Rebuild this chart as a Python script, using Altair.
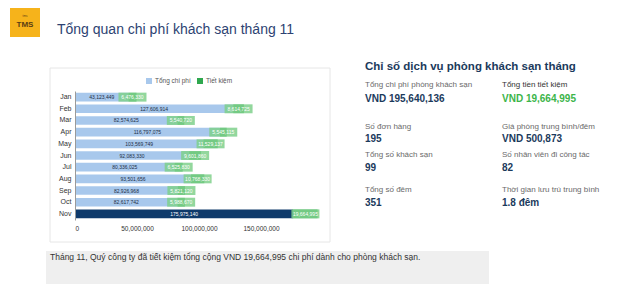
import altair as alt
import pandas as pd

months = ["Jan", "Feb", "Mar", "Apr", "May", "Jun", "Jul", "Aug", "Sep", "Oct", "Nov"]
total_cost = [43123449, 127606914, 82574625, 116797075, 103569749, 92083330,
              80336025, 93501656, 82926968, 82617742, 175975140]
savings = [6476330, 8614725, 5540720, 5545115, 11529137, 9601860,
           6525830, 10768330, 5821120, 5988670, 19664995]
is_current = [False] * 10 + [True]

x_ticks = [0, 50000000, 100000000, 150000000]
legend_labels = ["Tổng chi phí", "Tiết kiệm"]
legend_colors = ["#a8c8ec", "#2fa84f"]

title_text = "Tổng quan chi phí khách sạn tháng 11"
panel_title = "Chỉ số dịch vụ phòng khách sạn tháng"
kpi_labels = ["Tổng chi phí phòng khách sạn", "Tổng tiền tiết kiệm",
              "Số đơn hàng", "Giá phòng trung bình/đêm",
              "Tổng số khách sạn", "Số nhân viên đi công tác",
              "Tổng số đêm", "Thời gian lưu trú trung bình"]
kpi_values = ["VND 195,640,136", "VND 19,664,995", "195", "VND 500,873",
              "99", "82", "351", "1.8 đêm"]
note_text = "Tháng 11, Quý công ty đã tiết kiệm tổng cộng VND 19,664,995 chi phí dành cho phòng khách sạn."

FONT = "Liberation Sans"
OX, OY = 75, 91          # plot origin in page pixels
W, H = 248, 129

df = pd.DataFrame({"month": months, "total": total_cost, "saving": savings, "cur": is_current})

xs = alt.Scale(domain=[0, 200000000], nice=False)
ys = alt.Scale(domain=months, paddingInner=0.25, paddingOuter=0.15)

X_AXIS = alt.Axis(title=None, values=x_ticks, format=",d", domain=False, ticks=False,
                  grid=False, labelFontSize=6.5, labelColor="#333", labelFont=FONT,
                  labelPadding=5, zindex=2)
Y_AXIS = alt.Axis(title=None, ticks=False, domainColor="#9a9a9a", domainWidth=1,
                  labelFontSize=7, labelColor="#333", labelFont=FONT, labelPadding=4,
                  zindex=2)


def xq(field):
    return alt.X(field, scale=xs, axis=X_AXIS, title=None)


def ym():
    return alt.Y("month:N", scale=ys, sort=months, axis=Y_AXIS, title=None)


base = alt.Chart(df)

card = alt.Chart(pd.DataFrame({"a": [0]})).mark_rect(
    fill="white", stroke="#e6e6e6", strokeWidth=1
).encode(x=alt.value(50 - OX), x2=alt.value(330 - OX), y=alt.value(68 - OY), y2=alt.value(242 - OY))

bars = base.mark_bar(height=8.6).encode(
    x=xq("total:Q"),
    y=ym(),
    color=alt.condition("datum.cur", alt.value("#0f3a6b"), alt.value("#a8c8ec")),
)

green = base.transform_calculate(end="datum.total + datum.saving").mark_bar(
    height=8.6, color="#2fa84f"
).encode(x=xq("total:Q"), x2="end:Q", y=ym())

cost_labels = base.transform_calculate(
    mid="datum.total / 2", lab="format(datum.total, ',d')"
).mark_text(fontSize=5, font=FONT).encode(
    x=xq("mid:Q"), y=ym(), text="lab:N",
    color=alt.condition("datum.cur", alt.value("white"), alt.value("#1d2d44")),
)

box_path = "M-1,-0.32 L1,-0.32 L1,0.32 L-1,0.32 Z"
sav_box = base.transform_calculate(mid="datum.total + datum.saving / 2").mark_point(
    shape=box_path, size=784, filled=True, color="#7fd08c", opacity=0.85
).encode(x=xq("mid:Q"), y=ym())

sav_labels = base.transform_calculate(
    mid="datum.total + datum.saving / 2", lab="format(datum.saving, ',d')"
).mark_text(fontSize=5, font=FONT, color="white").encode(
    x=xq("mid:Q"), y=ym(), text="lab:N",
)


def txt(s, px, py, size, color, weight="normal", align="left"):
    return alt.Chart(pd.DataFrame({"t": [s]})).mark_text(
        fontSize=size, font=FONT, color=color, fontWeight=weight, align=align, baseline="middle"
    ).encode(x=alt.value(px - OX), y=alt.value(py - OY), text="t:N")


def box(x1, y1, x2, y2, fill, stroke=None):
    kw = {"fill": fill}
    if stroke:
        kw["stroke"] = stroke
    return alt.Chart(pd.DataFrame({"a": [0]})).mark_rect(**kw).encode(
        x=alt.value(x1 - OX), x2=alt.value(x2 - OX), y=alt.value(y1 - OY), y2=alt.value(y2 - OY))


layers = [card, bars, green, cost_labels, sav_box, sav_labels]

# legend
for (lab, col, sx) in zip(legend_labels, legend_colors, [146, 197]):
    layers.append(box(sx, 78, sx + 6, 84, col))
    layers.append(txt(lab, sx + 9, 81, 6.5, "#555"))

# header
layers.append(box(10, 8, 40, 37, "#f6b31b"))
layers.append(txt("TMS", 25, 25, 8, "#5a3d14", "bold", "center"))
layers.append(txt("tms", 25, 16, 3, "#5a3d14", "normal", "center"))
layers.append(txt(title_text, 57, 30, 14, "#2d4372"))

# KPI panel
layers.append(txt(panel_title, 365, 67, 11.5, "#1b3a5c", "bold"))
label_y = [85, 127, 155, 190]
value_y = [99, 139, 168, 203]
cols = [365, 502]
for i, (lab, val) in enumerate(zip(kpi_labels, kpi_values)):
    r, c = divmod(i, 2)
    lab_color = "#333" if i == 1 else "#6a6a6a"
    val_color = "#3cb54a" if i == 1 else "#1b3a5c"
    layers.append(txt(lab, cols[c], label_y[r], 8, lab_color))
    layers.append(txt(val, cols[c], value_y[r], 10, val_color, "bold"))

# note box
layers.append(box(46, 251, 489, 284, "#efefef"))
layers.append(txt(note_text, 50, 257, 8.5, "#333"))

chart = alt.layer(*layers).properties(
    width=W, height=H,
    autosize=alt.AutoSizeParams(type="none"),
    padding={"left": OX, "top": OY, "right": 630 - OX - W, "bottom": 294 - OY - H},
    background="white",
).configure_view(stroke=None)

chart.save("out.html", embed_options={"renderer": "svg", "actions": False})
